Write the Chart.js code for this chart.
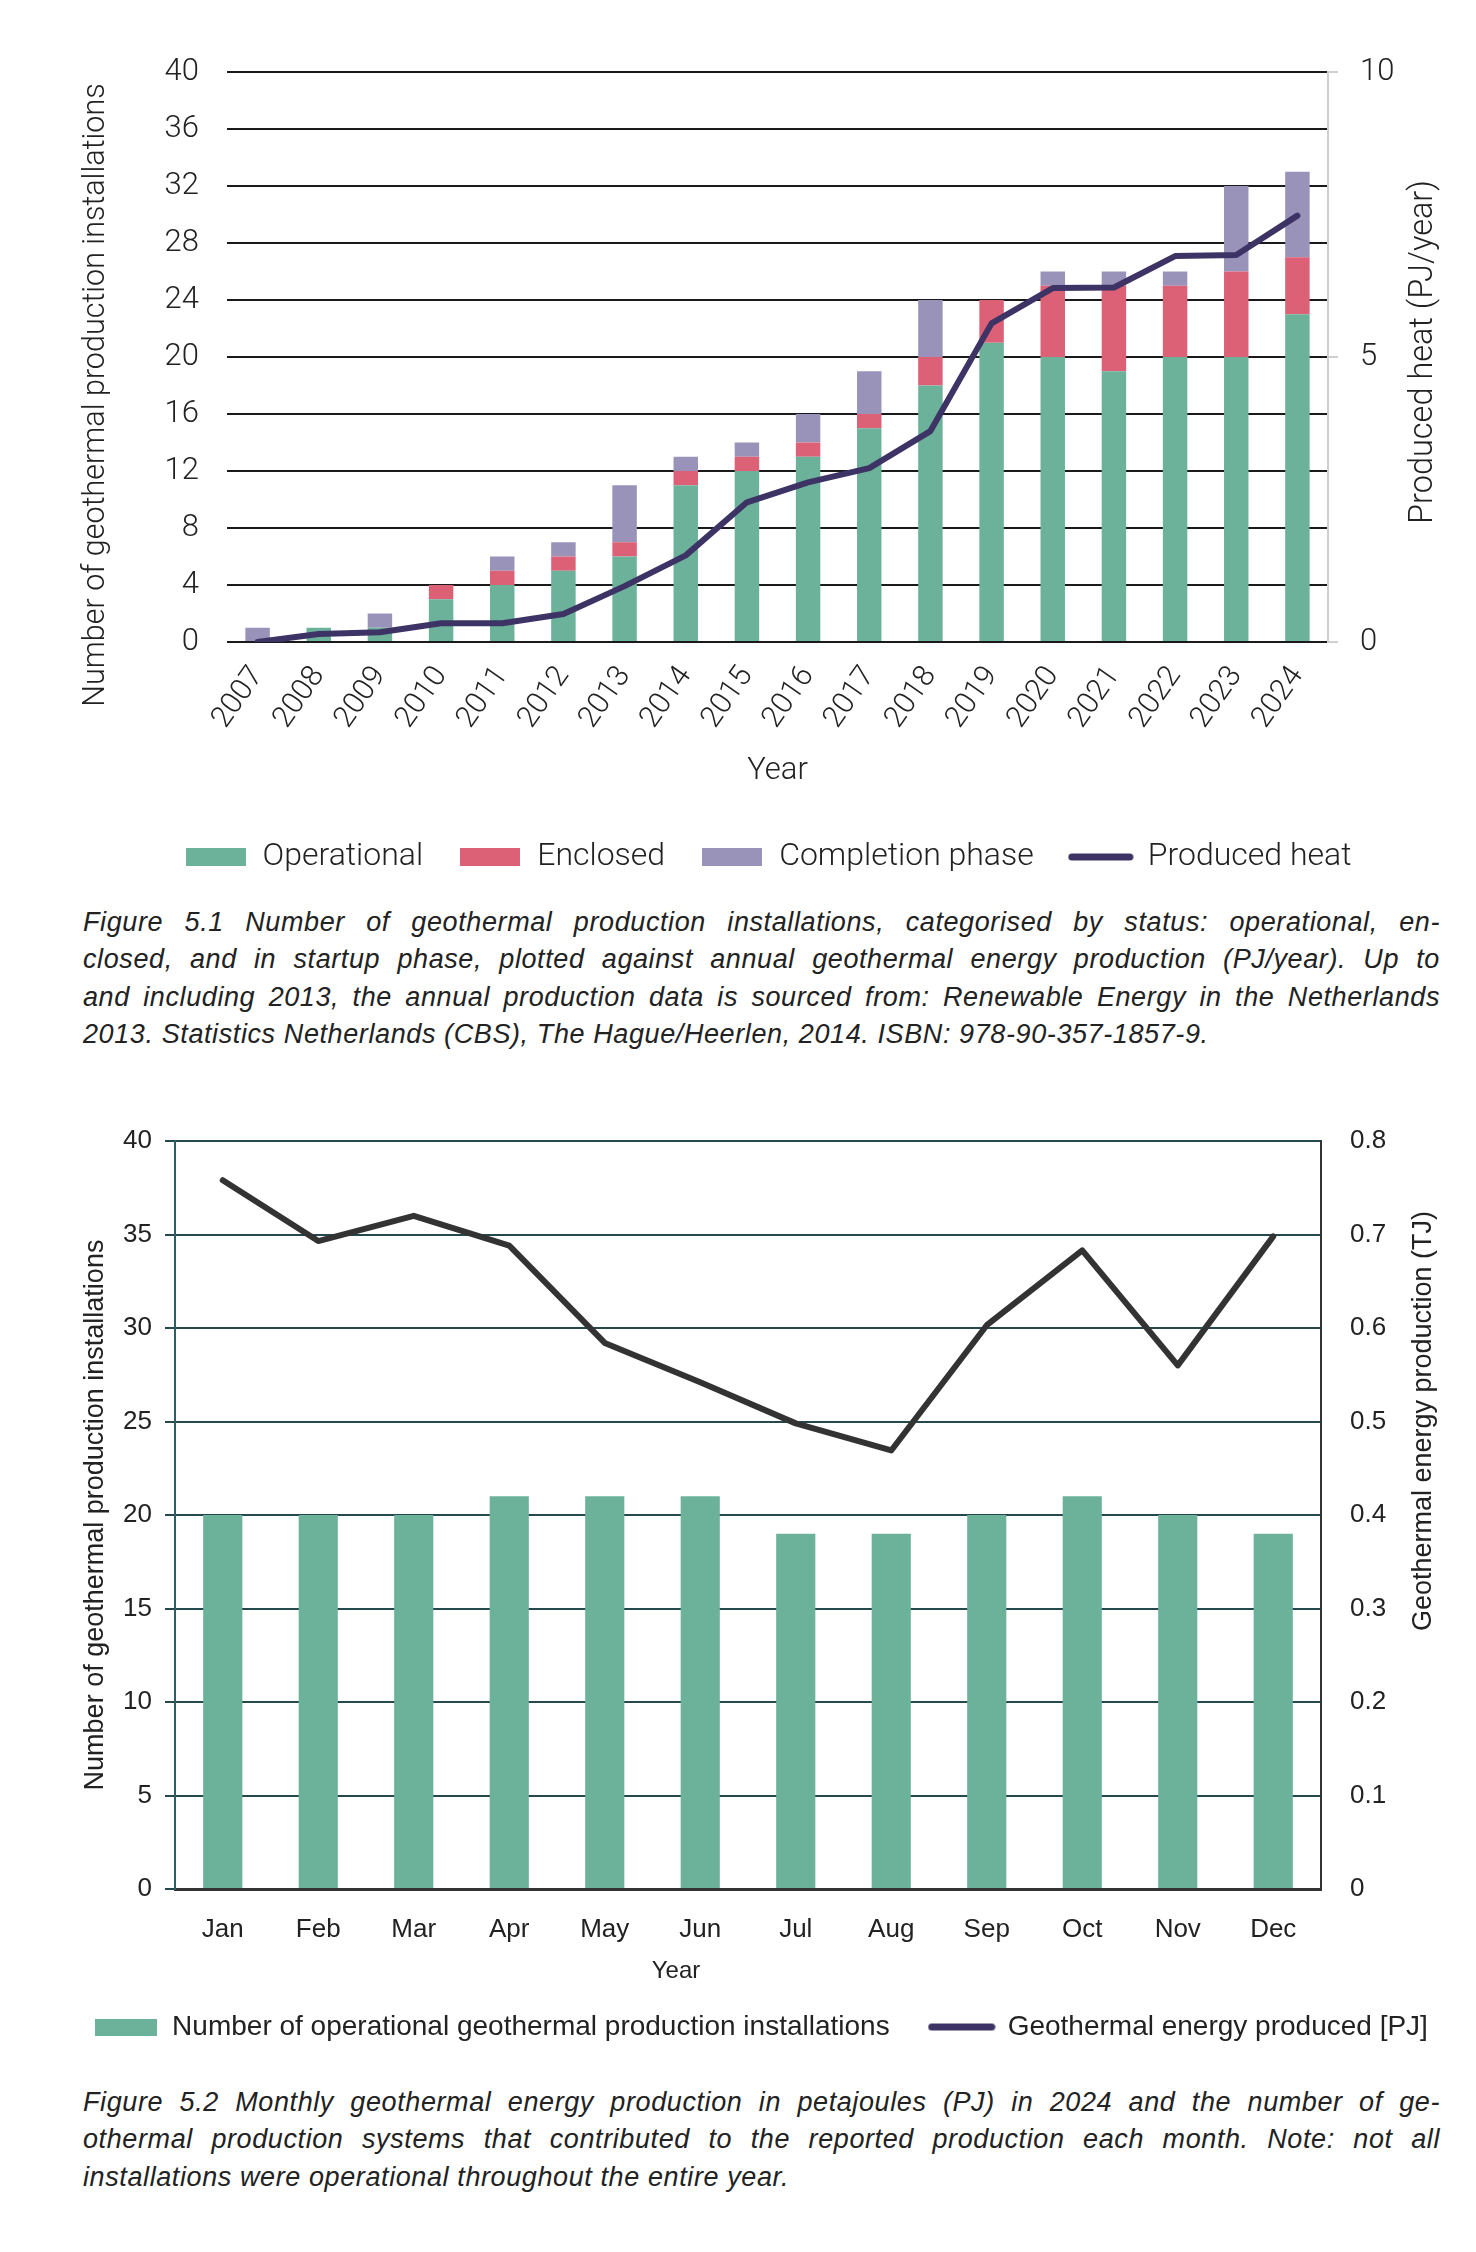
<!DOCTYPE html>
<html>
<head>
<meta charset="utf-8">
<script src="https://cdn.jsdelivr.net/npm/chart.js@4.4.1/dist/chart.umd.min.js"></script>
<style>
  body { margin: 0; background: #fff; }
  #page { position: relative; width: 1476px; height: 2252px; overflow: hidden; }
  #page canvas { position: absolute; left: 0; }
  .caption { position: absolute; left: 83px; width: 1357px; font: italic 27px "Liberation Sans", Arial, sans-serif; letter-spacing: 0.6px; color: #222; line-height: 37.3px; }
  .caption div { text-align: justify; text-align-last: justify; white-space: nowrap; }
  .caption div.last { text-align-last: left; }
</style>
</head>
<body>
<div id="page">
  <canvas id="heatChart" width="1476" height="900" style="top:0"></canvas>
  <div class="caption" style="top:904px">
    <div>Figure 5.1 Number of geothermal production installations, categorised by status: operational, en-</div>
    <div>closed, and in startup phase, plotted against annual geothermal energy production (PJ/year). Up to</div>
    <div>and including 2013, the annual production data is sourced from: Renewable Energy in the Netherlands</div>
    <div class="last">2013. Statistics Netherlands (CBS), The Hague/Heerlen, 2014. ISBN: 978-90-357-1857-9.</div>
  </div>
  <canvas id="monthChart" width="1476" height="970" style="top:1090px"></canvas>
  <div class="caption" style="top:2084px">
    <div>Figure 5.2 Monthly geothermal energy production in petajoules (PJ) in 2024 and the number of ge-</div>
    <div>othermal production systems that contributed to the reported production each month. Note: not all</div>
    <div class="last">installations were operational throughout the entire year.</div>
  </div>
</div>
<script>
// figure 5.1 - installations per year by status + produced heat
const years = ['2007', '2008', '2009', '2010', '2011', '2012', '2013', '2014', '2015',
  '2016', '2017', '2018', '2019', '2020', '2021', '2022', '2023', '2024'];
const operational = [0, 1, 1, 3, 4, 5, 6, 11, 12, 13, 15, 18, 21, 20, 19, 20, 20, 23];
const enclosed = [0, 0, 0, 1, 1, 1, 1, 1, 1, 1, 1, 2, 3, 5, 6, 5, 6, 4];
const completion = [1, 0, 1, 0, 1, 1, 4, 1, 1, 2, 3, 4, 0, 1, 1, 1, 6, 6];
const producedHeat = [0, 0.14, 0.17, 0.33, 0.33, 0.49, 0.98, 1.52, 2.45, 2.8, 3.05, 3.7, 5.59, 6.21, 6.22, 6.77, 6.79, 7.48];

// figure 5.2 - monthly 2024
const months = ['Jan', 'Feb', 'Mar', 'Apr', 'May', 'Jun', 'Jul', 'Aug', 'Sep', 'Oct', 'Nov', 'Dec'];
const installations = [20, 20, 20, 21, 21, 21, 19, 19, 20, 21, 20, 19];
const energy = [0.758, 0.693, 0.72, 0.688, 0.584, 0.542, 0.498, 0.469, 0.603, 0.683, 0.56, 0.698];

const TEAL = '#6cb29b', RED = '#dc6176', LILAC = '#9993ba', PURPLE = '#3d3465';

// little canvases used as legend symbols
function swatch(color, w, h, asLine) {
  const c = document.createElement('canvas');
  c.width = w; c.height = h;
  const g = c.getContext('2d');
  if (asLine) {
    g.strokeStyle = color; g.lineWidth = 7; g.lineCap = 'round';
    g.beginPath(); g.moveTo(4, h / 2); g.lineTo(w - 4, h / 2); g.stroke();
  } else {
    g.fillStyle = color; g.fillRect(0, 0, w, h);
  }
  return c;
}

function legendWith(symbols) {
  return (chart) => {
    const items = Chart.defaults.plugins.legend.labels.generateLabels(chart);
    items.forEach(it => { it.pointStyle = symbols[it.datasetIndex]; });
    return items;
  };
}

// axis titles that chart.js can't place: right titles reading bottom-to-top, off-centre titles
const freeTitles = {
  id: 'freeTitles',
  afterDraw(chart, args, opts) {
    const ctx = chart.ctx;
    (opts.items || []).forEach(t => {
      ctx.save();
      ctx.translate(t.x, t.y);
      if (t.rotate) ctx.rotate(t.rotate * Math.PI / 180);
      ctx.font = t.font;
      ctx.fillStyle = t.color || '#222';
      ctx.textAlign = 'center';
      ctx.textBaseline = 'middle';
      ctx.fillText(t.text, 0, 0);
      ctx.restore();
    });
  }
};

const LIGHT = 'Roboto, "Liberation Sans", sans-serif';
const light = { family: LIGHT, weight: '300' };

new Chart(document.getElementById('heatChart'), {
  type: 'bar',
  data: {
    labels: years,
    datasets: [
      { label: 'Operational', data: operational, backgroundColor: TEAL, stack: 's', order: 1 },
      { label: 'Enclosed', data: enclosed, backgroundColor: RED, stack: 's', order: 1 },
      { label: 'Completion phase', data: completion, backgroundColor: LILAC, stack: 's', order: 1 },
      { label: 'Produced heat', type: 'line', data: producedHeat, yAxisID: 'y1', borderColor: PURPLE,
        borderWidth: 6, pointRadius: 0, tension: 0, borderCapStyle: 'round', borderJoinStyle: 'round', order: 0 }
    ]
  },
  plugins: [freeTitles],
  options: {
    responsive: false,
    animation: false,
    layout: { padding: { top: 72, left: 76, right: 16, bottom: 17 } },
    datasets: { bar: { barPercentage: 0.4, categoryPercentage: 1 } },
    plugins: {
      tooltip: { enabled: false },
      legend: {
        position: 'bottom',
        labels: {
          usePointStyle: true,
          pointStyleWidth: 62,
          padding: 36,
          color: '#222',
          font: { ...light, size: 32 },
          sort: (a, b) => a.datasetIndex - b.datasetIndex,
          generateLabels: legendWith([swatch(TEAL, 60, 18), swatch(RED, 60, 18), swatch(LILAC, 60, 18), swatch(PURPLE, 66, 18, true)])
        }
      },
      freeTitles: {
        items: [
          { text: 'Number of geothermal production installations', x: 96, y: 395, rotate: -90, font: '300 30.5px ' + LIGHT },
          { text: 'Produced heat (PJ/year)', x: 1424, y: 352, rotate: -90, font: '300 32.5px ' + LIGHT }
        ]
      }
    },
    scales: {
      x: {
        stacked: true,
        grid: { display: false },
        border: { display: false },
        ticks: { color: '#222', font: { ...light, size: 30 }, minRotation: 55, maxRotation: 55, autoSkip: false, padding: 10 },
        title: { display: true, text: 'Year', color: '#222', font: { ...light, size: 31 }, padding: { bottom: 15 } },
        afterFit: s => { s.height = 163; }
      },
      y: {
        stacked: true,
        min: 0, max: 40,
        ticks: { stepSize: 4, color: '#222', font: { ...light, size: 31 }, padding: 28 },
        grid: { color: '#1a1a1a', lineWidth: 2, drawTicks: false },
        border: { display: false },
        afterFit: s => { s.width = 151; }
      },
      y1: {
        position: 'right',
        min: 0, max: 10,
        ticks: { stepSize: 5, color: '#222', font: { ...light, size: 31 }, padding: 22 },
        grid: { drawOnChartArea: false, drawTicks: true, tickLength: 10, color: '#cfcfcf', lineWidth: 2 },
        border: { color: '#cfcfcf', width: 2 },
        afterFit: s => { s.width = 132; }
      }
    }
  }
});

const ARIAL = '"Liberation Sans", Arial, sans-serif';
const arial = { family: ARIAL };
const GRID = '#24484c';

new Chart(document.getElementById('monthChart'), {
  type: 'bar',
  data: {
    labels: months,
    datasets: [
      { label: 'Number of operational geothermal production installations', data: installations, backgroundColor: TEAL, order: 1 },
      { label: 'Geothermal energy produced [PJ]', type: 'line', data: energy, yAxisID: 'y1', borderColor: '#333333',
        borderWidth: 6, pointRadius: 0, tension: 0, borderCapStyle: 'round', borderJoinStyle: 'round', order: 0 }
    ]
  },
  plugins: [freeTitles],
  options: {
    responsive: false,
    animation: false,
    layout: { padding: { top: 51, left: 46, right: 0, bottom: 9 } },
    datasets: { bar: { barPercentage: 0.41, categoryPercentage: 1 } },
    plugins: {
      tooltip: { enabled: false },
      legend: {
        position: 'bottom',
        labels: {
          usePointStyle: true,
          pointStyleWidth: 64,
          padding: 40,
          color: '#222',
          font: { ...arial, size: 28 },
          sort: (a, b) => a.datasetIndex - b.datasetIndex,
          generateLabels: legendWith([swatch(TEAL, 62, 17), swatch(PURPLE, 68, 17, true)])
        }
      },
      freeTitles: {
        items: [
          { text: 'Number of geothermal production installations', x: 96, y: 425, rotate: -90, font: '27px ' + ARIAL },
          { text: 'Geothermal energy production (TJ)', x: 1424, y: 331, rotate: -90, font: '27px ' + ARIAL },
          { text: 'Year', x: 676, y: 881, font: '24px ' + ARIAL }
        ]
      }
    },
    scales: {
      x: {
        grid: { display: false },
        border: { color: '#333', width: 3 },
        ticks: { color: '#222', font: { ...arial, size: 26 }, padding: 17 },
        afterFit: s => { s.height = 84; }
      },
      y: {
        min: 0, max: 40,
        ticks: { stepSize: 5, color: '#222', font: { ...arial, size: 26 }, padding: 13 },
        grid: { color: GRID, lineWidth: 2, drawTicks: true, tickLength: 10 },
        border: { color: '#2e5e63', width: 2 },
        afterFit: s => { s.width = 129; }
      },
      y1: {
        position: 'right',
        min: 0, max: 0.8,
        ticks: { stepSize: 0.1, color: '#222', font: { ...arial, size: 26 }, padding: 29,
          callback: v => (v === 0 ? '0' : v.toFixed(1)) },
        grid: { drawOnChartArea: false, drawTicks: false },
        border: { color: '#333', width: 2 },
        afterFit: s => { s.width = 155; }
      }
    }
  }
});
</script>
</body>
</html>
